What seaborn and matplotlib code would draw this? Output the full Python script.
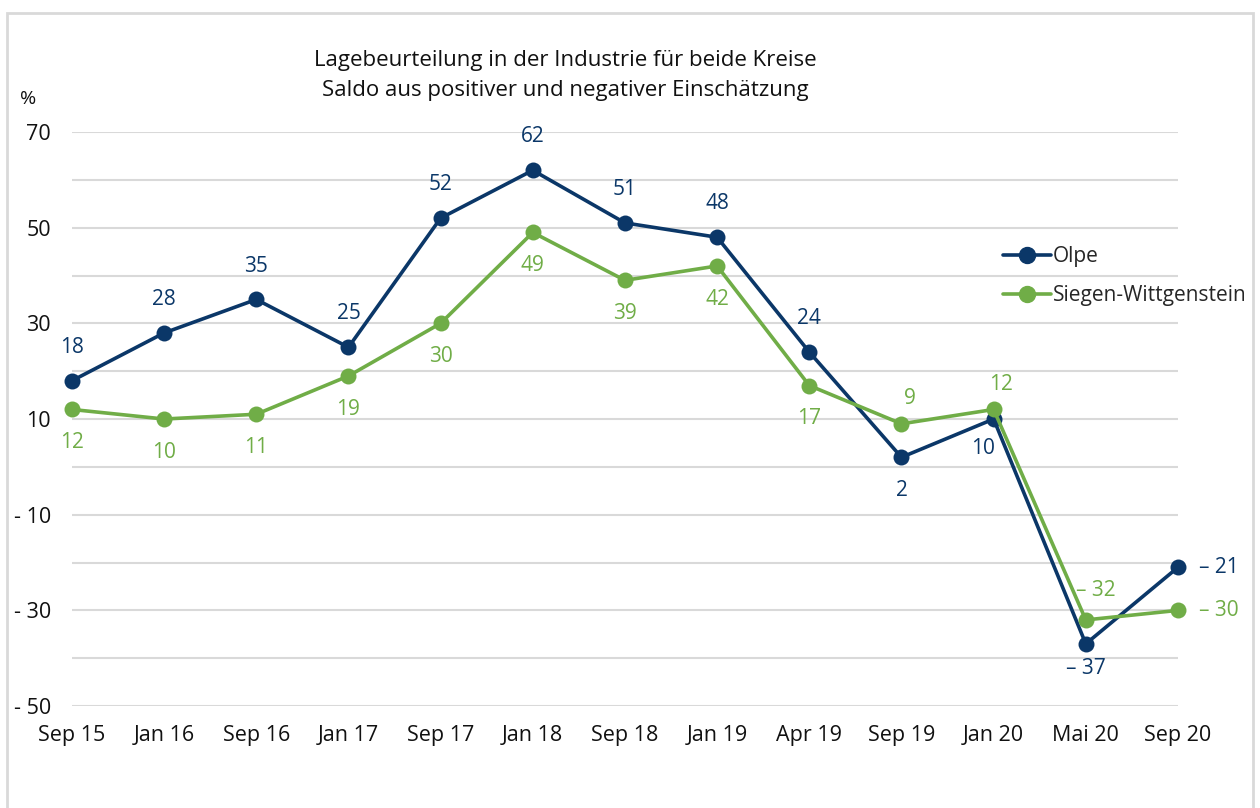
import matplotlib
matplotlib.use("Agg")
import matplotlib.pyplot as plt
import pandas as pd
import seaborn as sns
from matplotlib.patches import Rectangle
from matplotlib.lines import Line2D

periods = ["Sep 15", "Jan 16", "Sep 16", "Jan 17", "Sep 17", "Jan 18", "Sep 18",
           "Jan 19", "Apr 19", "Sep 19", "Jan 20", "Mai 20", "Sep 20"]
olpe = [18, 28, 35, 25, 52, 62, 51, 48, 24, 2, 10, -37, -21]
siegen = [12, 10, 11, 19, 30, 49, 39, 42, 17, 9, 12, -32, -30]
series_names = ["Olpe", "Siegen-Wittgenstein"]
y_ticks = [-50, -30, -10, 10, 30, 50, 70]

navy = "#0b3768"
green = "#70ad47"

df = pd.DataFrame({"Zeitpunkt": periods * 2,
                   "x": list(range(len(periods))) * 2,
                   "Saldo": olpe + siegen,
                   "Kreis": [series_names[0]] * len(periods) + [series_names[1]] * len(periods)})

sns.set_style("white")
plt.rcParams["font.family"] = ["Open Sans", "DejaVu Sans"]

fig = plt.figure(figsize=(12.6, 8.08), dpi=100)
ax = fig.add_axes([0.0571, 0.1262, 0.8778, 0.7104])

sns.lineplot(data=df, x="x", y="Saldo", hue="Kreis", palette=[navy, green],
             marker="o", markersize=11.5, markeredgewidth=0, linewidth=2.6,
             ax=ax, legend=False, sort=False)
for ln in ax.lines:
    ln.set_clip_on(False)

def fmt(v):
    return f"– {abs(v)}" if v < 0 else str(v)

# label placement: (dx, dy) in points
olpe_off = [(0, 24)] * 9 + [(0, -24), (-8, -21), (0, -18), (15, 0)]
siegen_off = [(0, -24)] * 9 + [(6, 18), (5, 18), (7, 21), (15, 0)]
for vals, offs, col in [(olpe, olpe_off, navy), (siegen, siegen_off, green)]:
    for i, (v, (dx, dy)) in enumerate(zip(vals, offs)):
        ha = "left" if (dx > 0 and dy == 0) else "center"
        ax.annotate(fmt(v), (i, v), xytext=(dx, dy), textcoords="offset points",
                    ha=ha, va="center", color=col, fontsize=15)

ax.set_xlim(0, len(periods) - 1)
ax.set_ylim(-50, 70)
ax.set_xticks(range(len(periods)))
ax.set_xticklabels(periods)
ax.set_yticks(y_ticks)
ax.set_yticklabels([f"- {abs(t)}" if t < 0 else str(t) for t in y_ticks])
ax.set_yticks(list(range(-40, 70, 20)), minor=True)
ax.grid(True, axis="y", which="both", color="#d9d9d9", linewidth=1.5)
ax.set_axisbelow(True)
ax.tick_params(axis="both", which="both", length=0, labelsize=15.5, colors="#111111")
ax.tick_params(axis="x", pad=14)
ax.tick_params(axis="y", pad=15)
ax.set_xlabel("")
ax.set_ylabel("")
for sp in ax.spines.values():
    sp.set_visible(False)

fig.text(0.449, 0.925, "Lagebeurteilung in der Industrie für beide Kreise",
         ha="center", va="center", fontsize=16, color="#111111")
fig.text(0.449, 0.888, "Saldo aus positiver und negativer Einschätzung",
         ha="center", va="center", fontsize=16, color="#111111")
fig.text(0.016, 0.878, "%", fontsize=14, color="#111111", va="center")

handles = [Line2D([], [], color=c, marker="o", markersize=11.5, linewidth=2.6)
           for c in (navy, green)]
fig.legend(handles, series_names, loc="center left", bbox_to_anchor=(0.781, 0.658),
           frameon=False, fontsize=15, handlelength=2.3, handletextpad=0.1,
           labelspacing=0.85)

fig.add_artist(Rectangle((0.0056, -0.1), 0.9889, 1.084, transform=fig.transFigure,
                         fill=False, edgecolor="#d9d9d9", linewidth=2))

fig.savefig("out.png", dpi=100)
